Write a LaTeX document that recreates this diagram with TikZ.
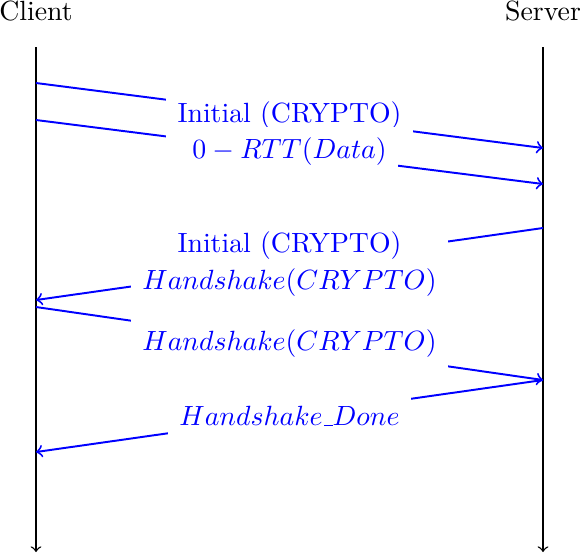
\documentclass[tikz,border=0pt]{standalone}
\usetikzlibrary{calc}
% short underscore rule, as in classic OT1 text
\newcommand{\lowbar}{\mbox{\kern.06em\vbox{\hrule width.3em}}}
\begin{document}
\begin{tikzpicture}[x=0.3597pt,y=-0.3597pt,
  lifeline/.style={->,line width=0.5pt},
  msg/.style={blue,line width=0.7pt,->},
  msglabel/.style={fill=white,text=blue,align=center,inner sep=4pt}]
\useasboundingbox (0,0) rectangle (580,554);

% participants
\node[anchor=base] (client) at (36,20.5) {Client};
\node[anchor=base] (server) at (543,20.5) {Server};

% lifelines
\coordinate (ctop) at (36,47);
\coordinate (cbot) at (36,552);
\coordinate (stop) at (543,47);
\coordinate (sbot) at (543,552);
\draw[lifeline] (ctop) -- (cbot);
\draw[lifeline] (stop) -- (sbot);

% message end points
\coordinate (c1) at (36,83);   \coordinate (s1) at (543,148);
\coordinate (c2) at (36,120);  \coordinate (s2) at (543,184);
\coordinate (s3) at (543,228); \coordinate (c3) at (36,300);
\coordinate (c4) at (36,307);  \coordinate (s4) at (543,380);
\coordinate (s5) at (543,380); \coordinate (c5) at (36,452);

% messages
\draw[msg] (c1) -- (s1);
\draw[msg] (c2) -- (s2);
\draw[msg] (s3) -- (c3);
\draw[msg] (c4) -- (s4);
\draw[msg] (s5) -- (c5);

% labels on top of all messages
\node[msglabel] (l1) at ($(c1)!0.5!(s1)$) {Initial (CRYPTO)};
\node[msglabel] (l2) at ($(c2)!0.5!(s2)$) {$0-RTT(Data)$};
\node[msglabel] (l3) at ($(s3)!0.5!(c3)$) {Initial (CRYPTO)\\[1pt]$Handshake(CRYPTO)$};
\node[msglabel] (l4) at ($(c4)!0.5!(s4)$) {$Handshake(CRYPTO)$};
\node[msglabel] (l5) at ($(s5)!0.5!(c5)$) {$Handshake\lowbar Done$};
\end{tikzpicture}
\end{document}
